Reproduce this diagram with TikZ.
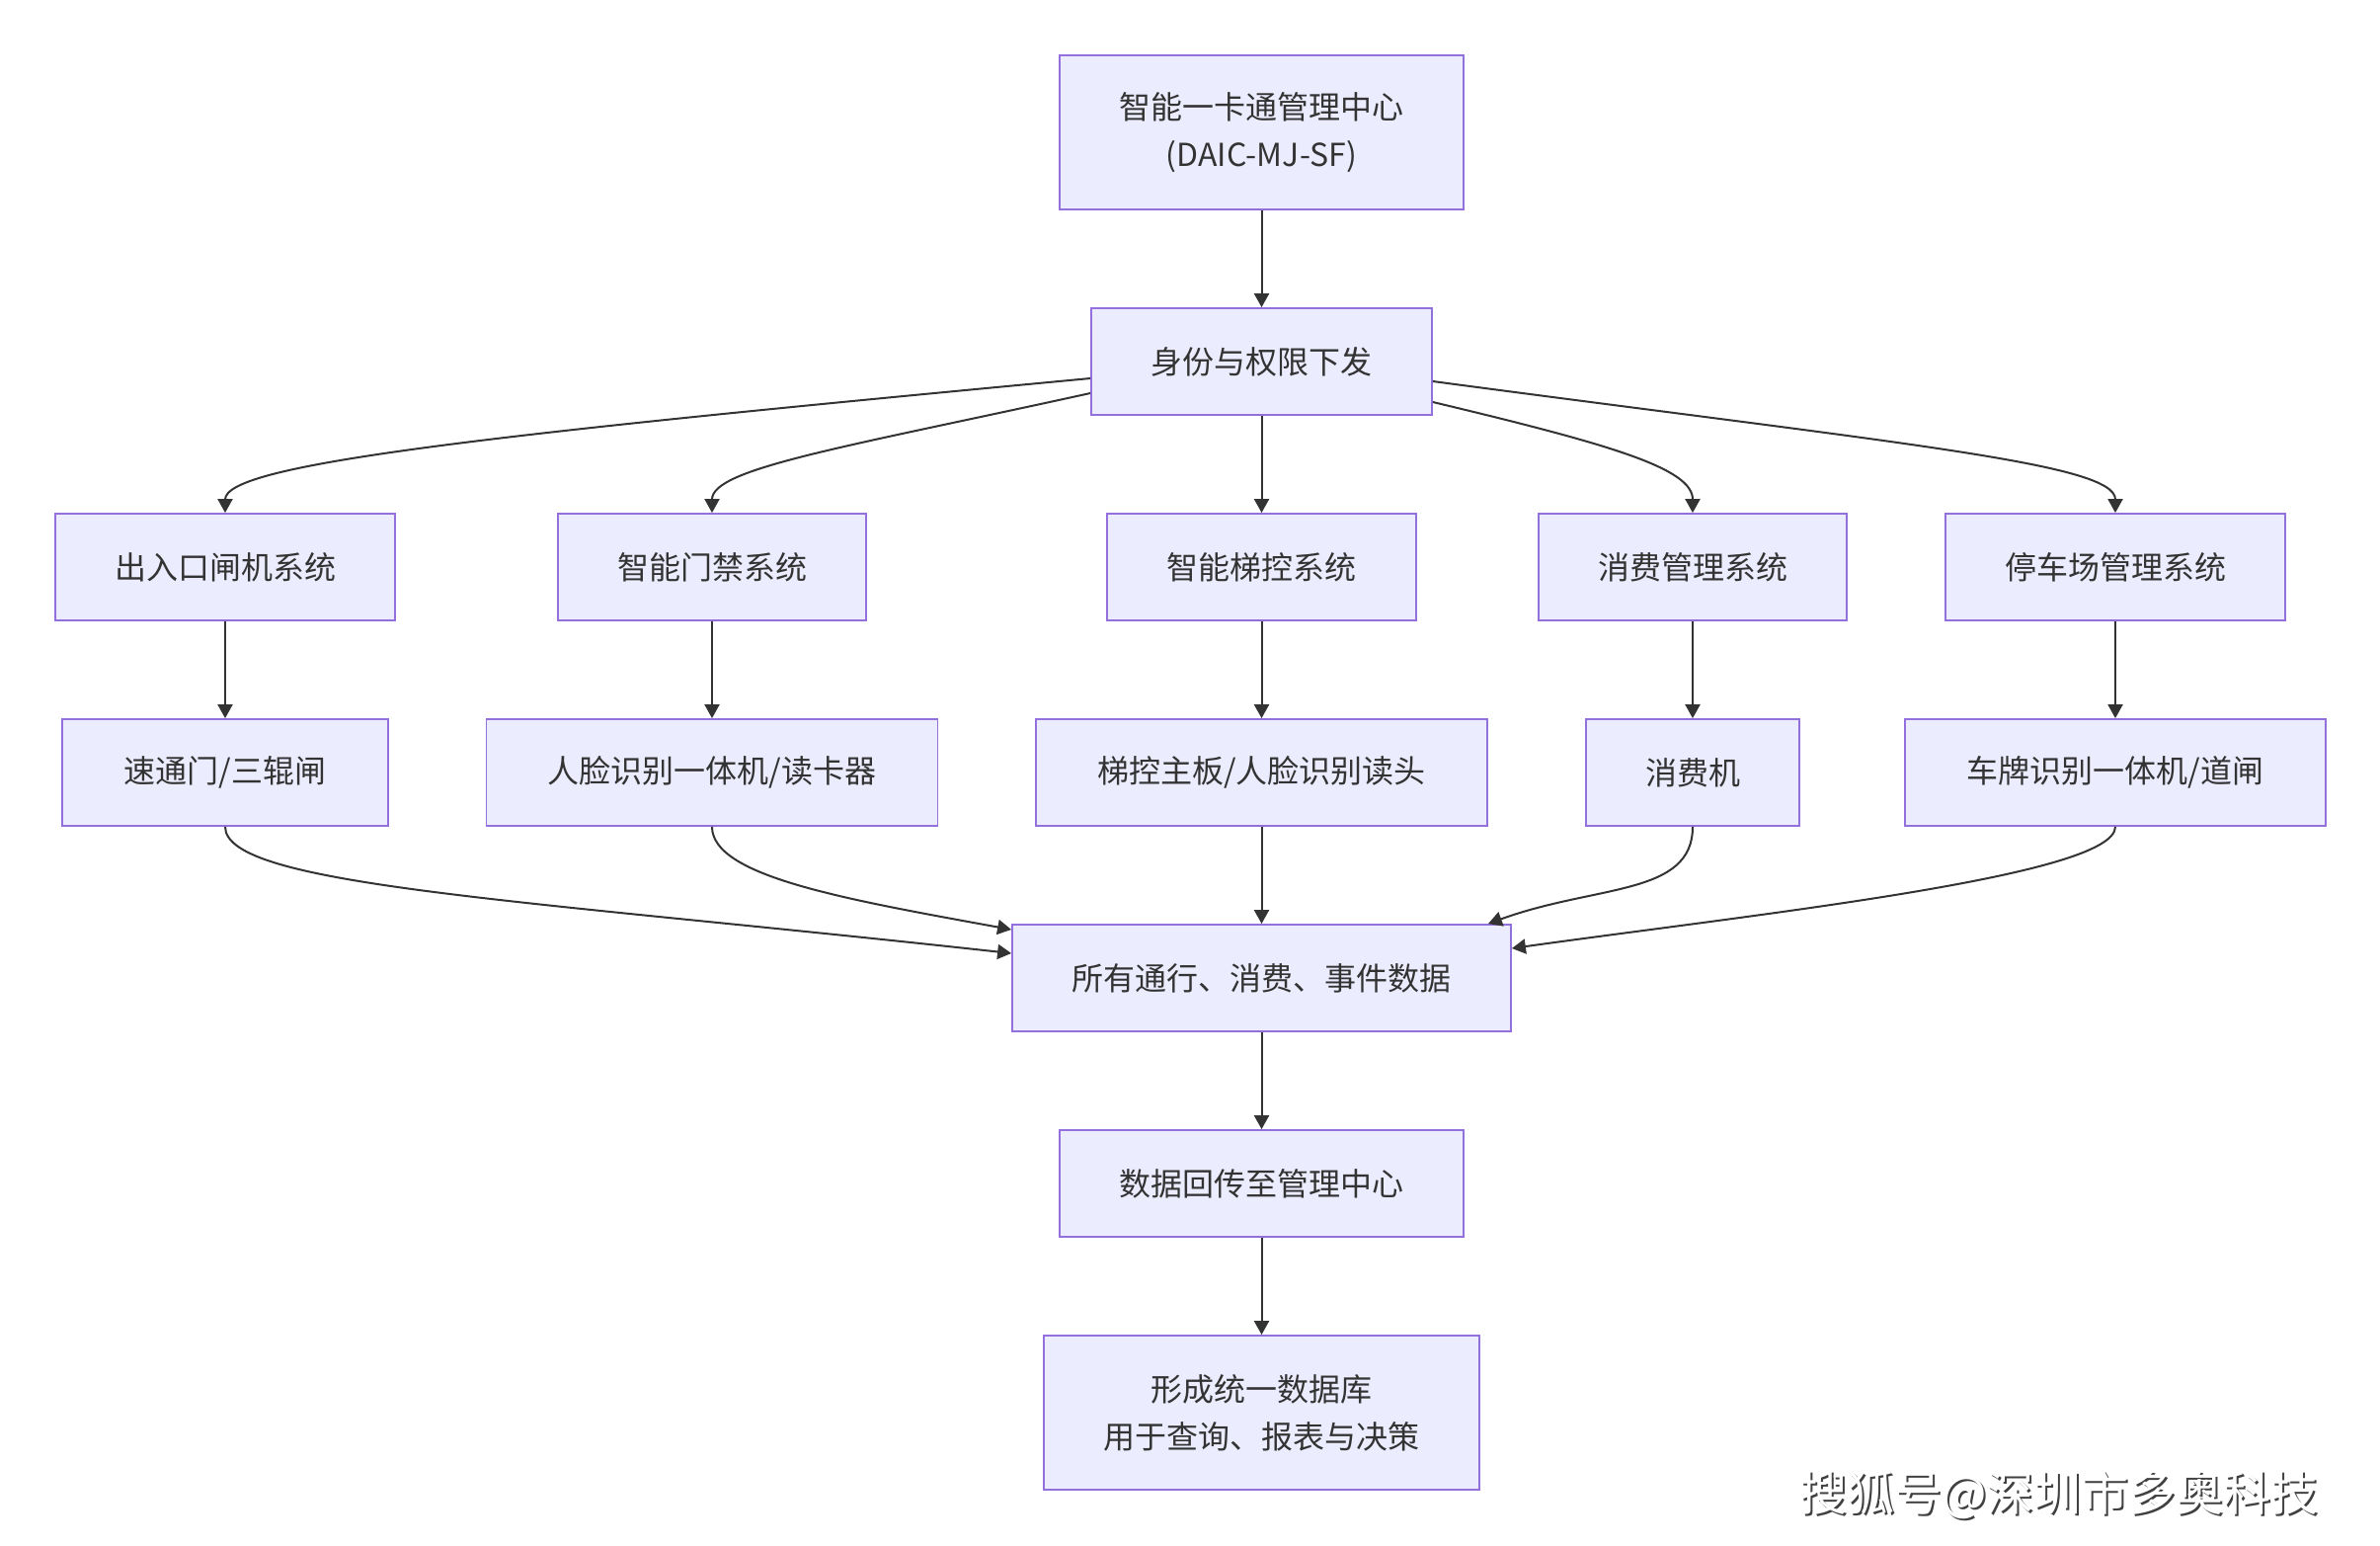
\documentclass[tikz,border=0pt]{standalone}
\usepackage{fontspec}
\newfontfamily\cjk{Noto Sans CJK SC}
\usetikzlibrary{arrows.meta}
\definecolor{boxfill}{HTML}{ECECFF}
\definecolor{boxline}{HTML}{9370DB}
\definecolor{ink}{HTML}{333333}

\begin{document}
\begin{tikzpicture}[x=0.5pt,y=-0.5pt,
  box/.style={draw=boxline,fill=boxfill,line width=0.9pt,inner sep=0pt,
    minimum height=54pt,align=center,text=ink,
    font=\cjk\fontsize{16}{24}\selectfont},
  flow/.style={draw=ink,line width=1pt,-{Triangle[length=7pt,width=7.5pt]}}]
\useasboundingbox (0,0) rectangle (2410,1564);

% top of the chain
\node[box,minimum width=204.5pt,minimum height=78pt] (hub) at (1277.5,134) {智能一卡通管理中心\\(DAIC-MJ-SF)};
\node[box,minimum width=172.5pt] (perm) at (1277.5,366) {身份与权限下发};

% subsystems
\node[box,minimum width=172pt] (gate) at (228,574) {出入口闸机系统};
\node[box,minimum width=156pt] (door) at (721,574) {智能门禁系统};
\node[box,minimum width=156.5pt] (lift) at (1277.5,574) {智能梯控系统};
\node[box,minimum width=156pt] (pay) at (1714,574) {消费管理系统};
\node[box,minimum width=172pt] (park) at (2142,574) {停车场管理系统};

% devices
\node[box,minimum width=165pt] (gatedev) at (228,782) {速通门/三辊闸};
\node[box,minimum width=228.5pt] (doordev) at (721,782) {人脸识别一体机/读卡器};
\node[box,minimum width=228.5pt] (liftdev) at (1277.5,782) {梯控主板/人脸识别读头};
\node[box,minimum width=108pt] (paydev) at (1714,782) {消费机};
\node[box,minimum width=213pt] (parkdev) at (2142,782) {车牌识别一体机/道闸};

% data back to the centre
\node[box,minimum width=252.5pt] (data) at (1277.5,990) {所有通行、消费、事件数据};
\node[box,minimum width=204.5pt] (back) at (1277.5,1198) {数据回传至管理中心};
\node[box,minimum width=220.5pt,minimum height=78pt] (db) at (1277.5,1430) {形成统一数据库\\用于查询、报表与决策};

\draw[flow] (hub) -- (perm);
\draw[flow] ([yshift=-8.5pt]perm.west) .. controls +(-605,57) and +(0,-50) .. (gate.north);
\draw[flow] ([yshift=-16pt]perm.west) .. controls +(-250,55) and +(0,-45) .. (door.north);
\draw[flow] (perm) -- (lift);
\draw[flow] ([yshift=-20.5pt]perm.east) .. controls +(180,43) and +(0,-45) .. (pay.north);
\draw[flow] ([yshift=-10pt]perm.east) .. controls +(480,64) and +(0,-50) .. (park.north);

\foreach \a/\b in {gate/gatedev,door/doordev,lift/liftdev,pay/paydev,park/parkdev}
  \draw[flow] (\a) -- (\b);

\draw[flow] (gatedev.south) .. controls +(0,60) and +(-500,-55) .. ([yshift=12.5pt]data.west);
\draw[flow] (doordev.south) .. controls +(0,50) and +(-170,-31) .. ([yshift=24.5pt]data.west);
\draw[flow] (liftdev) -- (data);
\draw[flow] (paydev.south) .. controls +(0,70) and +(110,-40) .. ([xshift=-12pt]data.north east);
\draw[flow] (parkdev.south) .. controls +(0,50) and +(250,-35) .. ([yshift=15pt]data.east);

\draw[flow] (data) -- (back);
\draw[flow] (back) -- (db);

% watermark
\node[font=\cjk\fontsize{24}{24}\selectfont,text=black!75] (markshadow) at (2087,1515) {搜狐号@深圳市多奥科技};
\node[font=\cjk\fontsize{24}{24}\selectfont,text=white] (mark) at (2085,1513) {搜狐号@深圳市多奥科技};
\end{tikzpicture}
\end{document}
